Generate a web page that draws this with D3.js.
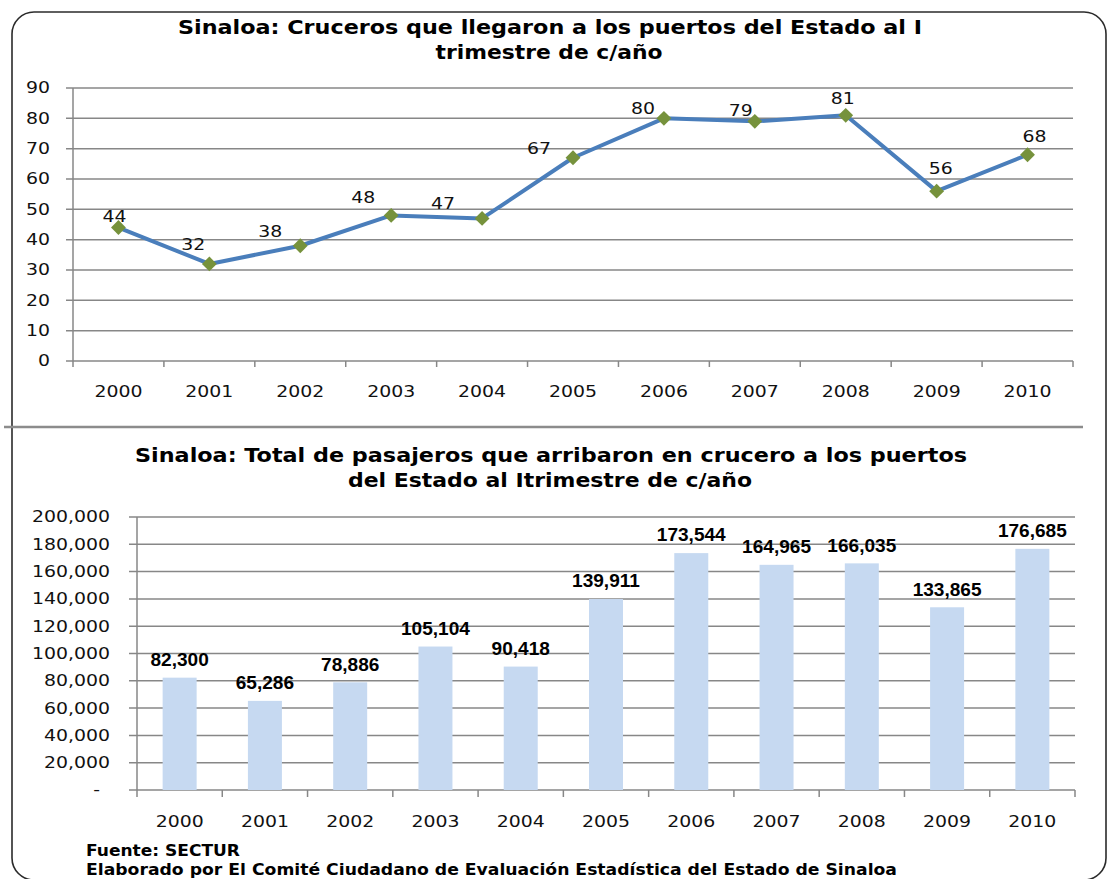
<!DOCTYPE html>
<html>
<head>
<meta charset="utf-8">
<script src="https://cdn.jsdelivr.net/npm/d3@7"></script>
<style>
  html, body { margin: 0; padding: 0; background: #fff; }
  svg { display: block; }
</style>
</head>
<body>
<div id="chart"></div>
<script>
// datos
const years = ["2000", "2001", "2002", "2003", "2004", "2005", "2006", "2007", "2008", "2009", "2010"];
const cruceros = [44, 32, 38, 48, 47, 67, 80, 79, 81, 56, 68];
const pasajeros = [82300, 65286, 78886, 105104, 90418, 139911, 173544, 164965, 166035, 133865, 176685];
const crucerosTicks = [0, 10, 20, 30, 40, 50, 60, 70, 80, 90];
const pasajerosTicks = [0, 20000, 40000, 60000, 80000, 100000, 120000, 140000, 160000, 180000, 200000];

// desplazamiento manual de etiquetas (como en el original de Excel)
const labelNudge = [[-4, -11], [-16, -19], [-30, -14], [-28, -18], [-39, -15], [-34, -9],
                    [-21, -10], [-14, -11], [-3, -17], [4, -23], [7, -18]];

const width = 1109, height = 879;
const verdana = "'DejaVu Sans', Verdana, sans-serif";
const arial = "'Liberation Sans', Arial, sans-serif";
const sx = 1.18; // texto estirado horizontalmente
const gridColor = "#878787";

const svg = d3.select("#chart").append("svg")
    .attr("width", width)
    .attr("height", height)
    .attr("viewBox", `0 0 ${width} ${height}`);

svg.append("rect").attr("width", width).attr("height", height).attr("fill", "#fff");

// marco redondeado
svg.append("rect")
    .attr("x", 12).attr("y", 12)
    .attr("width", 1094).attr("height", 868)
    .attr("rx", 22).attr("ry", 22)
    .attr("fill", "none")
    .attr("stroke", "#2b2b2b")
    .attr("stroke-width", 1.6);

// linea divisoria
svg.append("line")
    .attr("x1", 4).attr("x2", 1083)
    .attr("y1", 427).attr("y2", 427)
    .attr("stroke", "#8c8c8c")
    .attr("stroke-width", 2.5);

function title(lines) {
    lines.forEach(l => {
        svg.append("text")
            .attr("x", l.x).attr("y", l.y)
            .attr("text-anchor", "middle")
            .attr("dominant-baseline", "central")
            .attr("textLength", l.w)
            .attr("lengthAdjust", "spacingAndGlyphs")
            .style("font-family", verdana)
            .style("font-weight", "bold")
            .style("font-size", "19px")
            .style("fill", "#000")
            .text(l.t);
    });
}

// ---------- grafica 1: cruceros ----------
const x1 = d3.scaleBand().domain(years).range([73, 1073]).padding(0);
const y1 = d3.scaleLinear().domain([0, 90]).range([361, 88]);

title([
    { t: "Sinaloa: Cruceros que llegaron a los puertos del Estado al I", x: 550, y: 27, w: 744 },
    { t: "trimestre de c/año", x: 549, y: 52, w: 227 }
]);

const g1 = svg.append("g");

// cuadricula
g1.selectAll(".grid").data(crucerosTicks).join("line")
    .attr("x1", 66).attr("x2", 1073)
    .attr("y1", d => y1(d)).attr("y2", d => y1(d))
    .attr("stroke", gridColor).attr("stroke-width", 1.5);

// eje y
g1.append("line").attr("x1", 73).attr("x2", 73).attr("y1", 88).attr("y2", 361)
    .attr("stroke", gridColor).attr("stroke-width", 1.5);

// marcas del eje x
const bounds1 = years.map(d => x1(d)).concat([x1.range()[1]]);
g1.selectAll(".xt").data(bounds1).join("line")
    .attr("x1", d => d).attr("x2", d => d)
    .attr("y1", 361).attr("y2", 367)
    .attr("stroke", gridColor).attr("stroke-width", 1.5);

g1.selectAll(".ylab").data(crucerosTicks).join("text")
    .attr("transform", d => `translate(50,${y1(d)}) scale(${sx},1)`)
    .attr("text-anchor", "end")
    .attr("dominant-baseline", "central")
    .style("font-family", verdana).style("font-size", "16px").style("fill", "#111")
    .text(d => d);

g1.selectAll(".xlab").data(years).join("text")
    .attr("transform", d => `translate(${x1(d) + x1.bandwidth() / 2},392) scale(${sx},1)`)
    .attr("text-anchor", "middle")
    .attr("dominant-baseline", "central")
    .style("font-family", verdana).style("font-size", "16px").style("fill", "#111")
    .text(d => d);

const cx1 = i => x1(years[i]) + x1.bandwidth() / 2;

g1.append("path")
    .datum(cruceros)
    .attr("d", d3.line().x((d, i) => cx1(i)).y(d => y1(d)))
    .attr("fill", "none")
    .attr("stroke", "#4a7ebb")
    .attr("stroke-width", 4)
    .attr("stroke-linejoin", "round");

g1.selectAll(".mk").data(cruceros).join("path")
    .attr("d", d3.symbol().type(d3.symbolSquare).size(110))
    .attr("transform", (d, i) => `translate(${cx1(i)},${y1(d)}) rotate(45)`)
    .attr("fill", "#76923c");

g1.selectAll(".vlab").data(cruceros).join("text")
    .attr("transform", (d, i) => `translate(${cx1(i) + labelNudge[i][0]},${y1(d) + labelNudge[i][1]}) scale(${sx},1)`)
    .attr("text-anchor", "middle")
    .attr("dominant-baseline", "central")
    .style("font-family", verdana).style("font-size", "16px").style("fill", "#111")
    .text(d => d);

// ---------- grafica 2: pasajeros ----------
const x2 = d3.scaleBand().domain(years).range([137, 1075]).paddingInner(0).paddingOuter(0);
const y2 = d3.scaleLinear().domain([0, 200000]).range([790, 517]);
const barW = 34;
const fmt = d3.format(",");

title([
    { t: "Sinaloa: Total de pasajeros que arribaron en crucero a los puertos", x: 551, y: 455, w: 832 },
    { t: "del Estado al Itrimestre de c/año", x: 550, y: 480, w: 404 }
]);

const g2 = svg.append("g");

g2.selectAll(".grid").data(pasajerosTicks).join("line")
    .attr("x1", 129).attr("x2", 1075)
    .attr("y1", d => y2(d)).attr("y2", d => y2(d))
    .attr("stroke", gridColor).attr("stroke-width", 1.5);

g2.append("line").attr("x1", 137).attr("x2", 137).attr("y1", 517).attr("y2", 790)
    .attr("stroke", gridColor).attr("stroke-width", 1.5);

const bounds2 = years.map(d => x2(d)).concat([x2.range()[1]]);
g2.selectAll(".xt").data(bounds2).join("line")
    .attr("x1", d => d).attr("x2", d => d)
    .attr("y1", 790).attr("y2", 797)
    .attr("stroke", gridColor).attr("stroke-width", 1.5);

g2.selectAll(".bar").data(pasajeros).join("rect")
    .attr("x", (d, i) => x2(years[i]) + x2.bandwidth() / 2 - barW / 2)
    .attr("y", d => y2(d))
    .attr("width", barW)
    .attr("height", d => y2(0) - y2(d))
    .attr("fill", "#c6d9f1");

g2.selectAll(".ylab").data(pasajerosTicks).join("text")
    .attr("transform", d => `translate(${d === 0 ? 100 : 110},${y2(d)}) scale(${sx},1)`)
    .attr("text-anchor", "end")
    .attr("dominant-baseline", "central")
    .style("font-family", verdana).style("font-size", "16px").style("fill", "#111")
    .text(d => d === 0 ? "-" : fmt(d));

g2.selectAll(".xlab").data(years).join("text")
    .attr("transform", d => `translate(${x2(d) + x2.bandwidth() / 2},822) scale(${sx},1)`)
    .attr("text-anchor", "middle")
    .attr("dominant-baseline", "central")
    .style("font-family", verdana).style("font-size", "16px").style("fill", "#111")
    .text(d => d);

g2.selectAll(".vlab").data(pasajeros).join("text")
    .attr("transform", (d, i) => `translate(${x2(years[i]) + x2.bandwidth() / 2},${y2(d) - 18}) scale(1.06,1)`)
    .attr("text-anchor", "middle")
    .attr("dominant-baseline", "central")
    .style("font-family", arial).style("font-weight", "bold").style("font-size", "18px").style("fill", "#000")
    .text(d => fmt(d));

// pie
svg.append("text")
    .attr("x", 86).attr("y", 851)
    .attr("dominant-baseline", "central")
    .attr("textLength", 154).attr("lengthAdjust", "spacingAndGlyphs")
    .style("font-family", verdana).style("font-weight", "bold").style("font-size", "15px")
    .text("Fuente: SECTUR");

svg.append("text")
    .attr("x", 86).attr("y", 870)
    .attr("dominant-baseline", "central")
    .attr("textLength", 811).attr("lengthAdjust", "spacingAndGlyphs")
    .style("font-family", verdana).style("font-weight", "bold").style("font-size", "15px")
    .text("Elaborado por El Comité Ciudadano de Evaluación Estadística del Estado de Sinaloa");
</script>
</body>
</html>
